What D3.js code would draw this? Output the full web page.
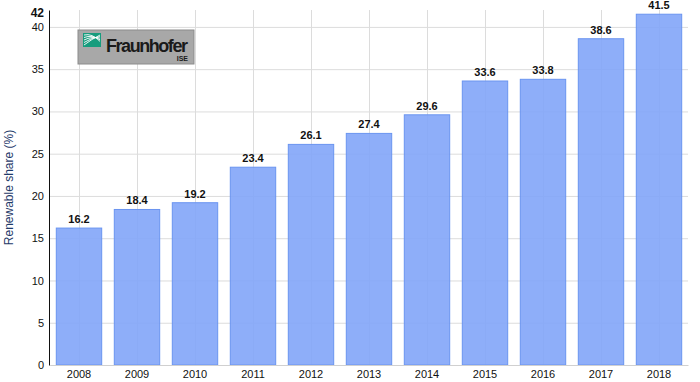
<!DOCTYPE html>
<html lang="en">
<head>
  <meta charset="UTF-8">
  <title>Renewable share</title>
  <script src="https://d3js.org/d3.v7.min.js"></script>
  <style>
    body { margin: 0; background: #fff; }
    text { font-family: "Liberation Sans", Arial, sans-serif; }
    .grid line { stroke: #dcdcdc; stroke-width: 1; }
    .bar { fill: #82a5f8; fill-opacity: 0.9; stroke: #6a94f0; stroke-width: 1; }
    .value { font-size: 11px; font-weight: bold; fill: #111; text-anchor: middle; }
    .tick text { font-size: 11px; fill: #111; }
  </style>
</head>
<body>
  <div id="chart"></div>
  <script>
    const years = ["2008", "2009", "2010", "2011", "2012", "2013", "2014", "2015", "2016", "2017", "2018"];
    const share = [16.2, 18.4, 19.2, 23.4, 26.1, 27.4, 29.6, 33.6, 33.8, 38.6, 41.5];
    const yTicks = [0, 5, 10, 15, 20, 25, 30, 35, 40];

    const width = 700, height = 382;
    const plotLeft = 50, plotRight = 688, plotTop = 10, plotBottom = 365;

    const svg = d3.select("#chart").append("svg")
      .attr("width", width)
      .attr("height", height);

    const x = d3.scaleBand()
      .domain(years)
      .range([plotLeft, plotRight])
      .paddingInner(0.2)
      .paddingOuter(0.1);

    const y = d3.scaleLinear()
      .domain([0, 42])
      .range([plotBottom, plotTop]);

    // horizontal grid
    svg.append("g").attr("class", "grid")
      .selectAll("line")
      .data(yTicks)
      .enter().append("line")
      .attr("x1", plotLeft).attr("x2", plotRight)
      .attr("y1", d => y(d) + 0.5).attr("y2", d => y(d) + 0.5);

    // vertical grid at bar centres
    svg.append("g").attr("class", "grid")
      .selectAll("line")
      .data(years)
      .enter().append("line")
      .attr("x1", d => Math.round(x(d) + x.bandwidth() / 2) + 0.5)
      .attr("x2", d => Math.round(x(d) + x.bandwidth() / 2) + 0.5)
      .attr("y1", plotTop).attr("y2", plotBottom);

    // Fraunhofer logo
    const logo = svg.append("g").attr("transform", "translate(78,30)");
    logo.append("rect")
      .attr("width", 116).attr("height", 34)
      .attr("fill", "#a8a8a8").attr("stroke", "#8c8c8c");
    logo.append("rect")
      .attr("x", 5).attr("y", 3).attr("width", 18).attr("height", 14)
      .attr("fill", "#179c7d");
    [0, 1, 2, 3, 4].forEach(i => {
      logo.append("path")
        .attr("d", `M6,${15 - i * 2.5} Q14,${9 - i * 1.5} 22,${5 + i * 1.6}`)
        .attr("fill", "none").attr("stroke", "#fff").attr("stroke-width", 0.9);
    });
    logo.append("text")
      .attr("x", 28).attr("y", 22)
      .attr("font-size", 18).attr("font-weight", "bold")
      .attr("fill", "#1a1a1a")
      .attr("textLength", 82)
      .text("Fraunhofer");
    logo.append("text")
      .attr("x", 110).attr("y", 31)
      .attr("font-size", 7).attr("font-weight", "bold")
      .attr("text-anchor", "end")
      .attr("fill", "#1a1a1a")
      .text("ISE");

    // bars
    svg.append("g")
      .selectAll("rect")
      .data(years)
      .enter().append("rect")
      .attr("class", "bar")
      .attr("x", d => x(d) + 0.5)
      .attr("width", x.bandwidth() - 1)
      .attr("y", (d, i) => y(share[i]))
      .attr("height", (d, i) => plotBottom - y(share[i]));

    // value labels
    svg.append("g")
      .selectAll("text")
      .data(years)
      .enter().append("text")
      .attr("class", "value")
      .attr("x", d => x(d) + x.bandwidth() / 2)
      .attr("y", (d, i) => y(share[i]) - 5)
      .text((d, i) => share[i].toFixed(1));

    // x axis
    const xAxis = svg.append("g")
      .attr("transform", `translate(0,${plotBottom})`)
      .call(d3.axisBottom(x).tickSize(0).tickPadding(5));
    xAxis.select(".domain").attr("stroke", "#d0d0d0");

    // y axis
    const yAxis = svg.append("g")
      .attr("transform", `translate(${plotLeft - 1},0)`)
      .call(d3.axisLeft(y).tickValues(yTicks).tickSize(0).tickPadding(5));
    yAxis.select(".domain").attr("stroke", "#111");
    yAxis.selectAll(".tick text").attr("font-size", 12);

    // top tick label 42
    svg.append("text")
      .attr("x", plotLeft - 6).attr("y", y(42) + 7)
      .attr("text-anchor", "end")
      .attr("font-size", 12).attr("font-weight", "bold")
      .attr("fill", "#111")
      .text("42");

    // y axis title
    svg.append("text")
      .attr("transform", `translate(13,${(plotTop + plotBottom) / 2}) rotate(-90)`)
      .attr("text-anchor", "middle")
      .attr("font-size", 12)
      .attr("fill", "#1f3a6a")
      .text("Renewable share (%)");
  </script>
</body>
</html>
